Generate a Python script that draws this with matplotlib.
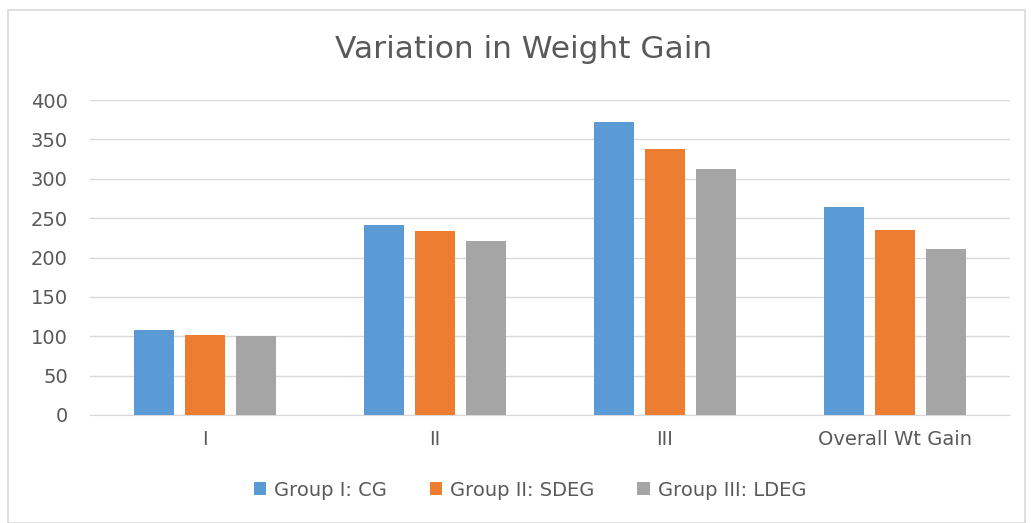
import matplotlib
matplotlib.use("Agg")
import matplotlib.pyplot as plt
import numpy as np
from matplotlib.patches import Rectangle

categories = ["I", "II", "III", "Overall Wt Gain"]
series_names = ["Group I: CG", "Group II: SDEG", "Group III: LDEG"]
cg = [108, 241, 372, 264]
sdeg = [102, 234, 338, 235]
ldeg = [100, 221, 312, 211]
colors = ["#5B9BD5", "#ED7D31", "#A5A5A5"]

plt.rcParams['font.family'] = ['DejaVu Sans']

fig = plt.figure(figsize=(10.31, 5.23), dpi=100)
ax = fig.add_axes([90/1031, 1-415/523, 920/1031, 315/523])

x = np.arange(len(categories))
w = 0.174
step = 0.222
for i, (vals, name, c) in enumerate(zip([cg, sdeg, ldeg], series_names, colors)):
    ax.bar(x + (i-1)*step, vals, width=w, color=c, label=name, zorder=3)

ax.set_xlim(-0.5, len(categories)-0.5)
ax.set_ylim(0, 400)
ax.set_yticks(range(0, 401, 50))
ax.set_xticks(x)
ax.set_xticklabels(categories)
ax.yaxis.grid(True, color="#D9D9D9", linewidth=1, zorder=0)
for s in ["top", "right", "left"]:
    ax.spines[s].set_visible(False)
ax.spines["bottom"].set_color("#D9D9D9")
ax.tick_params(axis="both", length=0, labelsize=14, colors="#595959")
ax.tick_params(axis="y", pad=16)
ax.tick_params(axis="x", pad=11)

fig.text(524/1031, 1-50/523, "Variation in Weight Gain", ha="center", va="center",
         fontsize=22.5, color="#595959")

leg = fig.legend(loc="center", bbox_to_anchor=(530/1031, 1-490/523), ncol=3, frameon=False,
                 fontsize=14, handlelength=0.65, handleheight=0.65, columnspacing=2.2,
                 handletextpad=0.4)
for t in leg.get_texts():
    t.set_color("#595959")

fig.patches.append(Rectangle((8/1031, 0), 1017/1031, 1-10/523, transform=fig.transFigure,
                             fill=False, edgecolor="#D9D9D9", linewidth=1.2))

fig.savefig("out.png", dpi=100, facecolor="white")
